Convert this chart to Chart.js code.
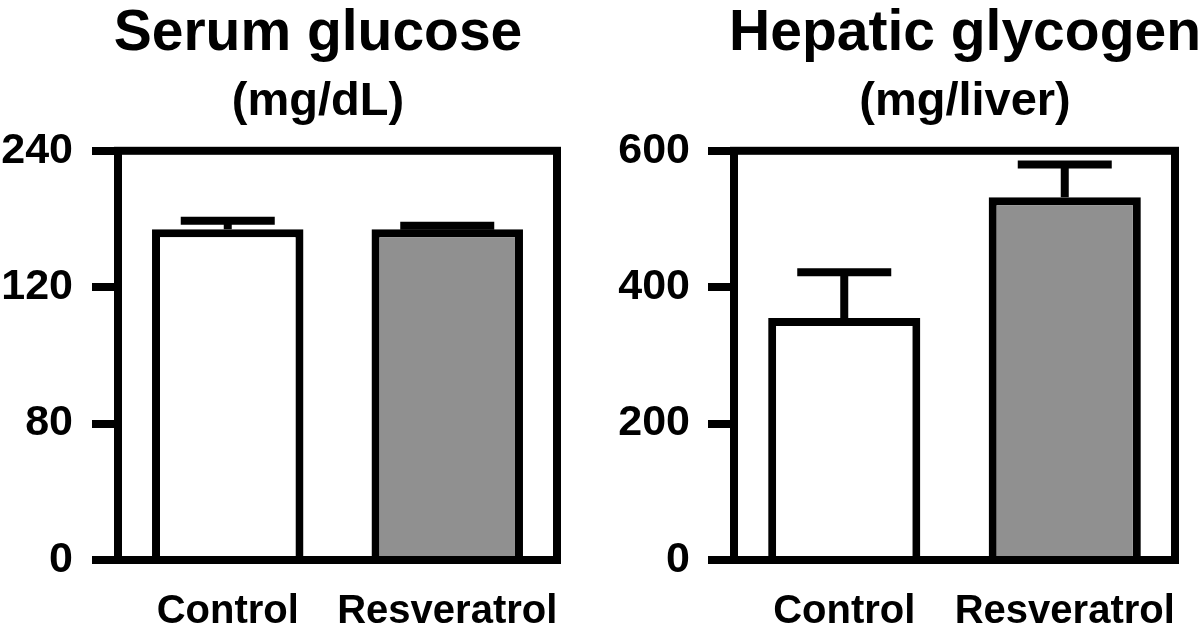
<!DOCTYPE html>
<html>
<head>
<meta charset="utf-8">
<script src="https://cdn.jsdelivr.net/npm/chart.js@4.4.1/dist/chart.umd.min.js"></script>
<style>
    html, body { margin: 0; padding: 0; background: #fff; overflow: hidden; }
    #wrap { position: relative; width: 1200px; height: 629px; overflow: hidden; }
    canvas { position: absolute; top: 0; }
</style>
</head>
<body>
<div id="wrap">
    <canvas id="glucose-chart" width="636" height="629" style="left:0px"></canvas>
    <canvas id="glycogen-chart" width="730" height="629" style="left:600px"></canvas>
</div>
<script>
// values
const groups = ['Control', 'Resveratrol'];
const barColors = ['#ffffff', '#909090'];

const glucoseMean = [194, 194];
const glucoseErr = [5, 2];
const glucoseTicks = ['0', '80', '120', '240'];   // as printed on the original axis

const glycogenMean = [355, 532];
const glycogenErr = [67, 48];
const glycogenTicks = ['0', '200', '400', '600'];

const FONT = "'Liberation Sans', Arial, Helvetica, sans-serif";

// draws the closed box round the plot area
const framePlugin = {
    id: 'frame',
    afterDatasetsDraw(chart) {
        const a = chart.chartArea;
        const ctx = chart.ctx;
        ctx.save();
        ctx.strokeStyle = '#000';
        ctx.lineWidth = 8;
        ctx.lineJoin = 'miter';
        ctx.strokeRect(a.left, a.top, a.right - a.left, a.bottom - a.top);
        ctx.restore();
    }
};

// upper error bars (mean + SE)
const errorBarPlugin = {
    id: 'errorBars',
    afterDatasetsDraw(chart, args, opts) {
        const ctx = chart.ctx;
        const yScale = chart.scales.y;
        const meta = chart.getDatasetMeta(0);
        const means = chart.data.datasets[0].data;
        ctx.save();
        ctx.strokeStyle = '#000';
        ctx.lineWidth = 8;
        ctx.lineCap = 'butt';
        meta.data.forEach((bar, i) => {
            const yTop = yScale.getPixelForValue(means[i] + opts.errors[i]);
            ctx.beginPath();
            ctx.moveTo(bar.x, bar.y);
            ctx.lineTo(bar.x, yTop);
            ctx.moveTo(bar.x - opts.capHalf, yTop);
            ctx.lineTo(bar.x + opts.capHalf, yTop);
            ctx.stroke();
        });
        ctx.restore();
    }
};

function drawPanel(canvasId, title, unit, means, errors, yMax, yStep, tickLabels, yWidth, rightGap, tickPad) {
    const config = {
        type: 'bar',
        data: {
            labels: groups,
            datasets: [{
                data: means,
                backgroundColor: barColors,
                borderColor: '#000',
                borderWidth: 8,
                borderSkipped: 'start',
                categoryPercentage: 1.0,
                barPercentage: 0.69
            }]
        },
        options: {
            responsive: false,
            animation: false,
            layout: { padding: 0 },
            plugins: {
                legend: { display: false },
                tooltip: { enabled: false },
                title: {
                    display: true,
                    text: title,
                    color: '#000',
                    font: { family: FONT, size: 57, weight: 'bold', lineHeight: 1.2 },
                    padding: { top: 0, bottom: 0 }
                },
                subtitle: {
                    display: true,
                    text: unit,
                    color: '#000',
                    font: { family: FONT, size: 47, weight: 'bold', lineHeight: 1.2 },
                    padding: { top: 5, bottom: 21 }
                },
                errorBars: { errors: errors, capHalf: 47 }
            },
            scales: {
                x: {
                    grid: { display: false },
                    border: { display: false },
                    ticks: {
                        color: '#000',
                        padding: 20,
                        maxRotation: 0,
                        autoSkip: false,
                        font: { family: FONT, size: 40, weight: 'bold' }
                    },
                    afterFit(scale) { scale.height = 69; }
                },
                y: {
                    min: 0,
                    max: yMax,
                    grid: {
                        drawOnChartArea: false,
                        drawTicks: true,
                        tickLength: 26,
                        lineWidth: 8,
                        color: '#000'
                    },
                    border: { display: false },
                    ticks: {
                        stepSize: yStep,
                        color: '#000',
                        padding: tickPad,
                        font: { family: FONT, size: 43, weight: 'bold' },
                        callback: (value, index) => tickLabels[index]
                    },
                    afterFit(scale) { scale.width = yWidth; }
                },
                // empty right-hand axis: keeps white space right of the box
                // so the centred titles land where they sit in the figure
                gap: {
                    position: 'right',
                    axis: 'y',
                    grid: { display: false },
                    border: { display: false },
                    ticks: { display: false },
                    afterFit(scale) { scale.width = rightGap; }
                }
            }
        },
        plugins: [framePlugin, errorBarPlugin]
    };
    return new Chart(canvasId, config);
}

drawPanel('glucose-chart', 'Serum glucose', '(mg/dL)', glucoseMean, glucoseErr, 240, 80, glucoseTicks, 118, 79, 19);
drawPanel('glycogen-chart', 'Hepatic glycogen', '(mg/liver)', glycogenMean, glycogenErr, 600, 200, glycogenTicks, 134, 155, 18);
</script>
</body>
</html>
